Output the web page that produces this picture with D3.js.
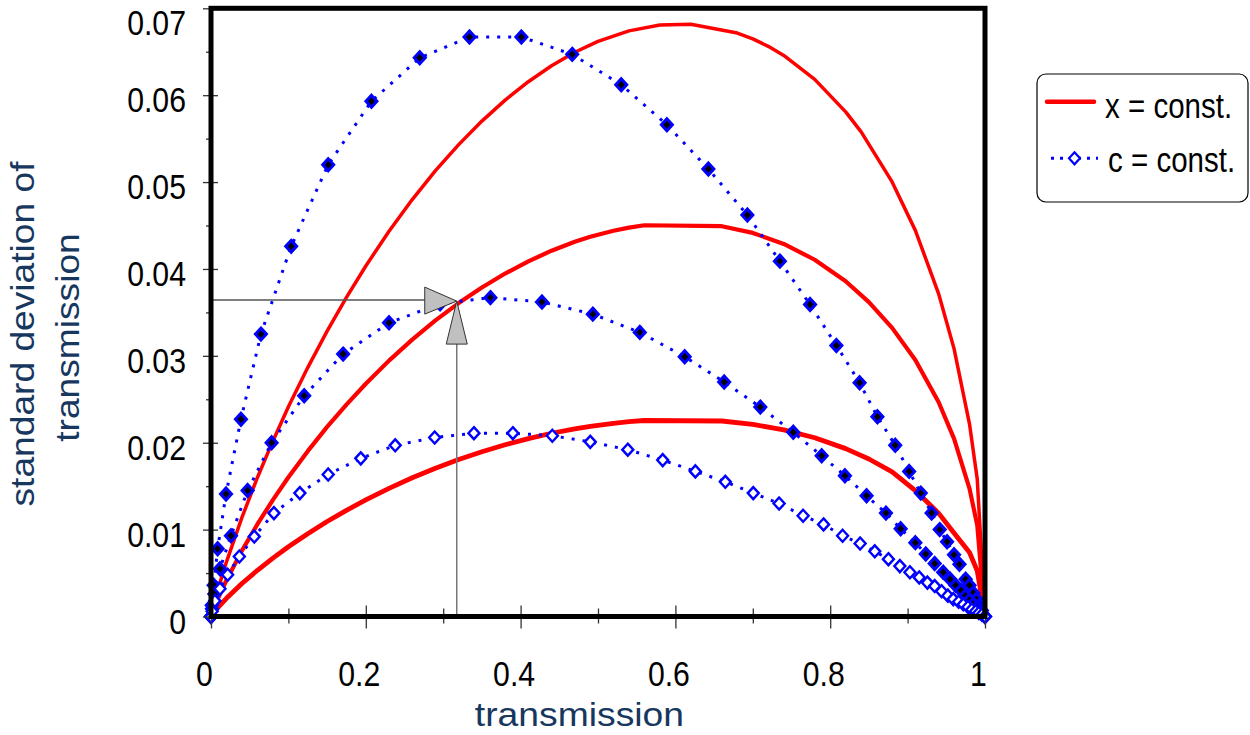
<!DOCTYPE html>
<html><head><meta charset="utf-8">
<script src="https://cdn.jsdelivr.net/npm/d3@7"></script>
<style>
body{margin:0;background:#fff;}
svg{display:block;}
text{font-family:"Liberation Sans",Arial,Helvetica,sans-serif;}
</style>
</head><body>
<svg id="chart" width="1250" height="735"></svg>
<script>
// ---------- tick values & labels ----------
const xTicksMajor = [0, 0.2, 0.4, 0.6, 0.8, 1];
const xTickLabels = ["0", "0.2", "0.4", "0.6", "0.8", "1"];
const xTicksMinor = [0.1, 0.3, 0.5, 0.7, 0.9];
const yTicksMajor = [0, 0.01, 0.02, 0.03, 0.04, 0.05, 0.06, 0.07];
const yTickLabels = ["0", "0.01", "0.02", "0.03", "0.04", "0.05", "0.06", "0.07"];
const yTicksMinor = [0.005, 0.015, 0.025, 0.035, 0.045, 0.055, 0.065];

const xTitle = "transmission";
const yTitleLines = ["standard deviation of", "transmission"];
const legendLabels = ["x = const.", "c = const."];

// ---------- x = const. (red solid) ----------
const redHighT = [0,0.005,0.01,0.02,0.04,0.06,0.08,0.10,0.125,0.15,0.175,0.20,0.23,0.26,0.29,0.32,0.35,0.38,0.41,0.44,0.47,0.50,0.54,0.58,0.62,0.68,0.70,0.72,0.74,0.78,0.82,0.84,0.88,0.91,0.94,0.96,0.98,0.99,1];
const redHighV = [0,0.00183,0.00341,0.00629,0.01141,0.01600,0.02021,0.02413,0.02865,0.03285,0.03673,0.04034,0.04435,0.04799,0.05131,0.05431,0.05702,0.05943,0.06155,0.06339,0.06494,0.06619,0.06740,0.06807,0.06816,0.06715,0.06648,0.06562,0.06457,0.06182,0.05808,0.05578,0.05002,0.04444,0.03717,0.03083,0.02215,0.01579,0];

const redT = [0,0.005,0.01,0.02,0.04,0.06,0.08,0.10,0.125,0.15,0.175,0.20,0.23,0.26,0.29,0.32,0.35,0.38,0.41,0.44,0.47,0.49,0.52,0.54,0.56,0.66,0.70,0.74,0.78,0.82,0.85,0.88,0.91,0.94,0.96,0.98,0.99,1];
const redMidV = [0,0.00122,0.00227,0.00418,0.00758,0.01062,0.01342,0.01602,0.01903,0.02182,0.02439,0.02679,0.02945,0.03187,0.03408,0.03607,0.03787,0.03947,0.04088,0.04210,0.04313,0.04370,0.04440,0.04476,0.04503,0.04492,0.04415,0.04288,0.04106,0.03858,0.03619,0.03322,0.02952,0.02469,0.02048,0.01471,0.01049,0];
const redLowV = [0,0.00061,0.00114,0.00209,0.00380,0.00532,0.00672,0.00803,0.00953,0.01093,0.01222,0.01342,0.01475,0.01597,0.01707,0.01807,0.01897,0.01977,0.02048,0.02109,0.02160,0.02189,0.02224,0.02242,0.02256,0.02250,0.02212,0.02148,0.02057,0.01932,0.01813,0.01664,0.01450,0.01190,0.00960,0.00737,0.00525,0];

// ---------- c = const. (blue dotted, diamonds) ----------
const blueHighT = [0,0.001,0.0035,0.0086,0.0194,0.0387,0.0645,0.1036,0.1514,0.2073,0.2697,0.334,0.401,0.4667,0.530,0.589,0.6426,0.693,0.735,0.774,0.808,0.838,0.861,0.884,0.902,0.917,0.931,0.9415,0.951,0.960,0.967,0.975,0.980,0.985,0.989,0.993,0.996,1];
const blueHighV = [0,0.0013,0.0036,0.0078,0.0141,0.0227,0.0325,0.0426,0.0520,0.0593,0.0643,0.0667,0.0667,0.0647,0.0612,0.0566,0.0515,0.0462,0.0409,0.0359,0.0312,0.0269,0.0230,0.0197,0.0167,0.0142,0.0119,0.0100,0.0086,0.0071,0.0060,0.0043,0.0036,0.0027,0.0020,0.0013,0.0007,0];

const blueMidT = [0,0.0013,0.0043,0.0116,0.0258,0.0473,0.0783,0.1204,0.1707,0.230,0.296,0.361,0.4276,0.4933,0.554,0.612,0.663,0.7097,0.7523,0.789,0.819,0.847,0.872,0.891,0.910,0.9235,0.935,0.946,0.955,0.962,0.969,0.975,0.980,0.985,0.990,0.994,0.997,1];
const blueMidV = [0,0.0009,0.0026,0.0055,0.0093,0.0145,0.0200,0.0254,0.0302,0.0338,0.0360,0.0367,0.0362,0.0348,0.0327,0.0299,0.0270,0.0241,0.0212,0.0185,0.0162,0.0139,0.0119,0.0101,0.0085,0.0072,0.0061,0.0051,0.0043,0.0036,0.0030,0.0024,0.0019,0.0014,0.0010,0.0006,0.0003,0];

const blueLowT = [0,0.0015,0.005,0.0116,0.0215,0.0366,0.0559,0.0813,0.1148,0.1514,0.1935,0.238,0.289,0.3397,0.390,0.441,0.490,0.5385,0.5836,0.6258,0.6645,0.7006,0.734,0.765,0.7914,0.816,0.8387,0.8576,0.8752,0.890,0.903,0.915,0.9256,0.935,0.944,0.952,0.959,0.966,0.972,0.978,0.983,0.988,0.992,0.996,1];
const blueLowV = [0,0.0006,0.0018,0.0032,0.0048,0.0069,0.0092,0.0119,0.0142,0.01635,0.0182,0.0197,0.0206,0.0211,0.0211,0.0208,0.0201,0.0192,0.0180,0.0167,0.0155,0.0142,0.0130,0.0116,0.0106,0.0093,0.0084,0.0075,0.0066,0.0058,0.0051,0.0045,0.0039,0.0035,0.0029,0.0024,0.0020,0.0017,0.0014,0.0011,0.0008,0.0006,0.0004,0.0002,0];

// ---------- arrow annotation point ----------
const arrowT = [0.3175];
const arrowV = [0.0363];

// ---------- drawing ----------
const svg = d3.select("#chart");
const x = d3.scaleLinear().domain([0, 1]).range([211, 985]);
const y = d3.scaleLinear().domain([0, 0.07]).range([616.5, 8.3]);
const zip = (a, b) => a.map((v, i) => [v, b[i]]);
const line = d3.line().x(d => x(d[0])).y(d => y(d[1]));

const plot = svg.append("g");

// red curves
const reds = [
  {d: zip(redHighT, redHighV), w: 3.5},
  {d: zip(redT, redMidV), w: 4.2},
  {d: zip(redT, redLowV), w: 4.8}
];
plot.selectAll("path.red").data(reds).join("path")
  .attr("class", "red")
  .attr("d", s => line(s.d))
  .attr("fill", "none").attr("stroke", "#ff0000")
  .attr("stroke-width", s => s.w).attr("stroke-linejoin", "round");

// blue series
const blues = [
  {d: zip(blueHighT, blueHighV), fill: "#000000"},
  {d: zip(blueMidT, blueMidV), fill: "#000000"},
  {d: zip(blueLowT, blueLowV), fill: "#ffffff"}
];
const diamond = "M0,-6L5.5,0L0,6L-5.5,0Z";
blues.forEach(s => {
  plot.append("path").attr("d", line(s.d))
    .attr("fill", "none").attr("stroke", "#0000ff")
    .attr("stroke-width", 3).attr("stroke-dasharray", "3,8");
});
blues.forEach(s => {
  plot.append("g").selectAll("path").data(s.d).join("path")
    .attr("d", diamond)
    .attr("transform", d => `translate(${x(d[0])},${y(d[1])})`)
    .attr("fill", s.fill).attr("stroke", "#0000ff")
    .attr("stroke-width", s.fill === "#ffffff" ? 2.4 : 3);
});

// arrows
const ax = x(arrowT[0]), ay = y(arrowV[0]);
const ann = svg.append("g");
ann.append("line").attr("x1", x(0)).attr("x2", ax - 32).attr("y1", ay - 1).attr("y2", ay - 1)
  .attr("stroke", "#555").attr("stroke-width", 1.5);
ann.append("line").attr("x1", ax).attr("x2", ax).attr("y1", y(0)).attr("y2", ay + 43)
  .attr("stroke", "#777").attr("stroke-width", 1.5);
ann.append("path").attr("d", `M${ax},${ay}L${ax-32},${ay-14}L${ax-32},${ay+13}Z`)
  .attr("fill", "#c0c0c0").attr("stroke", "#333").attr("stroke-width", 1);
ann.append("path").attr("d", `M${ax},${ay}L${ax-10.5},${ay+43}L${ax+10.5},${ay+43}Z`)
  .attr("fill", "#c0c0c0").attr("stroke", "#333").attr("stroke-width", 1);

// axes
const gxMinor = svg.append("g").attr("transform", `translate(0,${y(0)})`)
  .call(d3.axisBottom(x).tickValues(xTicksMinor).tickSize(7).tickFormat(""));
gxMinor.select(".domain").remove();
gxMinor.selectAll(".tick line").attr("y1", -8).attr("stroke", "#333").attr("stroke-width", 1.3);

const gx = svg.append("g").attr("transform", `translate(0,${y(0)})`)
  .call(d3.axisBottom(x).tickValues(xTicksMajor).tickSize(12).tickFormat((d, i) => xTickLabels[i]));
gx.select(".domain").remove();
gx.selectAll(".tick line").attr("y1", -11).attr("stroke", "#333").attr("stroke-width", 1.3);
gx.selectAll(".tick text")
  .attr("y", null).attr("dy", null)
  .attr("transform", "translate(-7,69.5) scale(0.84,1)")
  .attr("text-anchor", "middle")
  .attr("font-size", 36).attr("fill", "#000")
  .style("font-family", "'Liberation Sans', Arial, sans-serif");

const gyMinor = svg.append("g").attr("transform", `translate(${x(0)},0)`)
  .call(d3.axisLeft(y).tickValues(yTicksMinor).tickSize(5).tickFormat(""));
gyMinor.select(".domain").remove();
gyMinor.selectAll(".tick line").attr("x1", 2).attr("stroke", "#333").attr("stroke-width", 1.3);

const gy = svg.append("g").attr("transform", `translate(${x(0)},0)`)
  .call(d3.axisLeft(y).tickValues(yTicksMajor).tickSize(8).tickFormat((d, i) => yTickLabels[i]));
gy.select(".domain").remove();
gy.selectAll(".tick line").attr("x1", 7).attr("stroke", "#333").attr("stroke-width", 1.3);
gy.selectAll(".tick text")
  .attr("x", null).attr("dy", null)
  .attr("transform", d => `translate(-25,${Math.max(16.5, 34 - y(d))}) scale(0.84,1)`)
  .attr("text-anchor", "end")
  .attr("font-size", 36).attr("fill", "#000")
  .style("font-family", "'Liberation Sans', Arial, sans-serif");

// frame
svg.append("rect").attr("x", x(0)).attr("y", y(0.07))
  .attr("width", x(1) - x(0)).attr("height", y(0) - y(0.07))
  .attr("fill", "none").attr("stroke", "#000").attr("stroke-width", 5);

// axis titles
const titleColor = "#17375e";
svg.append("text").attr("transform", `translate(${x(0.476)},726) scale(1.13,1)`)
  .attr("text-anchor", "middle").attr("font-size", 33).attr("fill", titleColor).text(xTitle);
const yt = [[34, 334], [79, 337.5]];
yTitleLines.forEach((t, i) => {
  svg.append("text").attr("transform", `translate(${yt[i][0]},${yt[i][1]}) rotate(-90) scale(1.093,1)`)
    .attr("text-anchor", "middle").attr("font-size", 34).attr("fill", titleColor).text(t);
});

// legend
const lg = svg.append("g");
lg.append("rect").attr("x", 1037).attr("y", 74).attr("width", 211).attr("height", 128).attr("rx", 9)
  .attr("fill", "#fff").attr("stroke", "#000").attr("stroke-width", 1.2);
lg.append("line").attr("x1", 1047).attr("x2", 1094).attr("y1", 101.7).attr("y2", 101.7)
  .attr("stroke", "#ff0000").attr("stroke-width", 4.5).attr("stroke-linecap", "round");
lg.append("line").attr("x1", 1051).attr("x2", 1098).attr("y1", 158.3).attr("y2", 158.3)
  .attr("stroke", "#0000ff").attr("stroke-width", 3).attr("stroke-dasharray", "3,6");
lg.append("path").attr("d", diamond).attr("transform", "translate(1074.5,158.3)")
  .attr("fill", "#fff").attr("stroke", "#0000ff").attr("stroke-width", 2.2);
const lgPos = [[1105, 118], [1108, 172]];
legendLabels.forEach((t, i) => {
  lg.append("text").attr("transform", `translate(${lgPos[i][0]},${lgPos[i][1]}) scale(0.82,1)`)
    .attr("font-size", 36).attr("fill", "#000").text(t);
});
</script>
</body></html>
